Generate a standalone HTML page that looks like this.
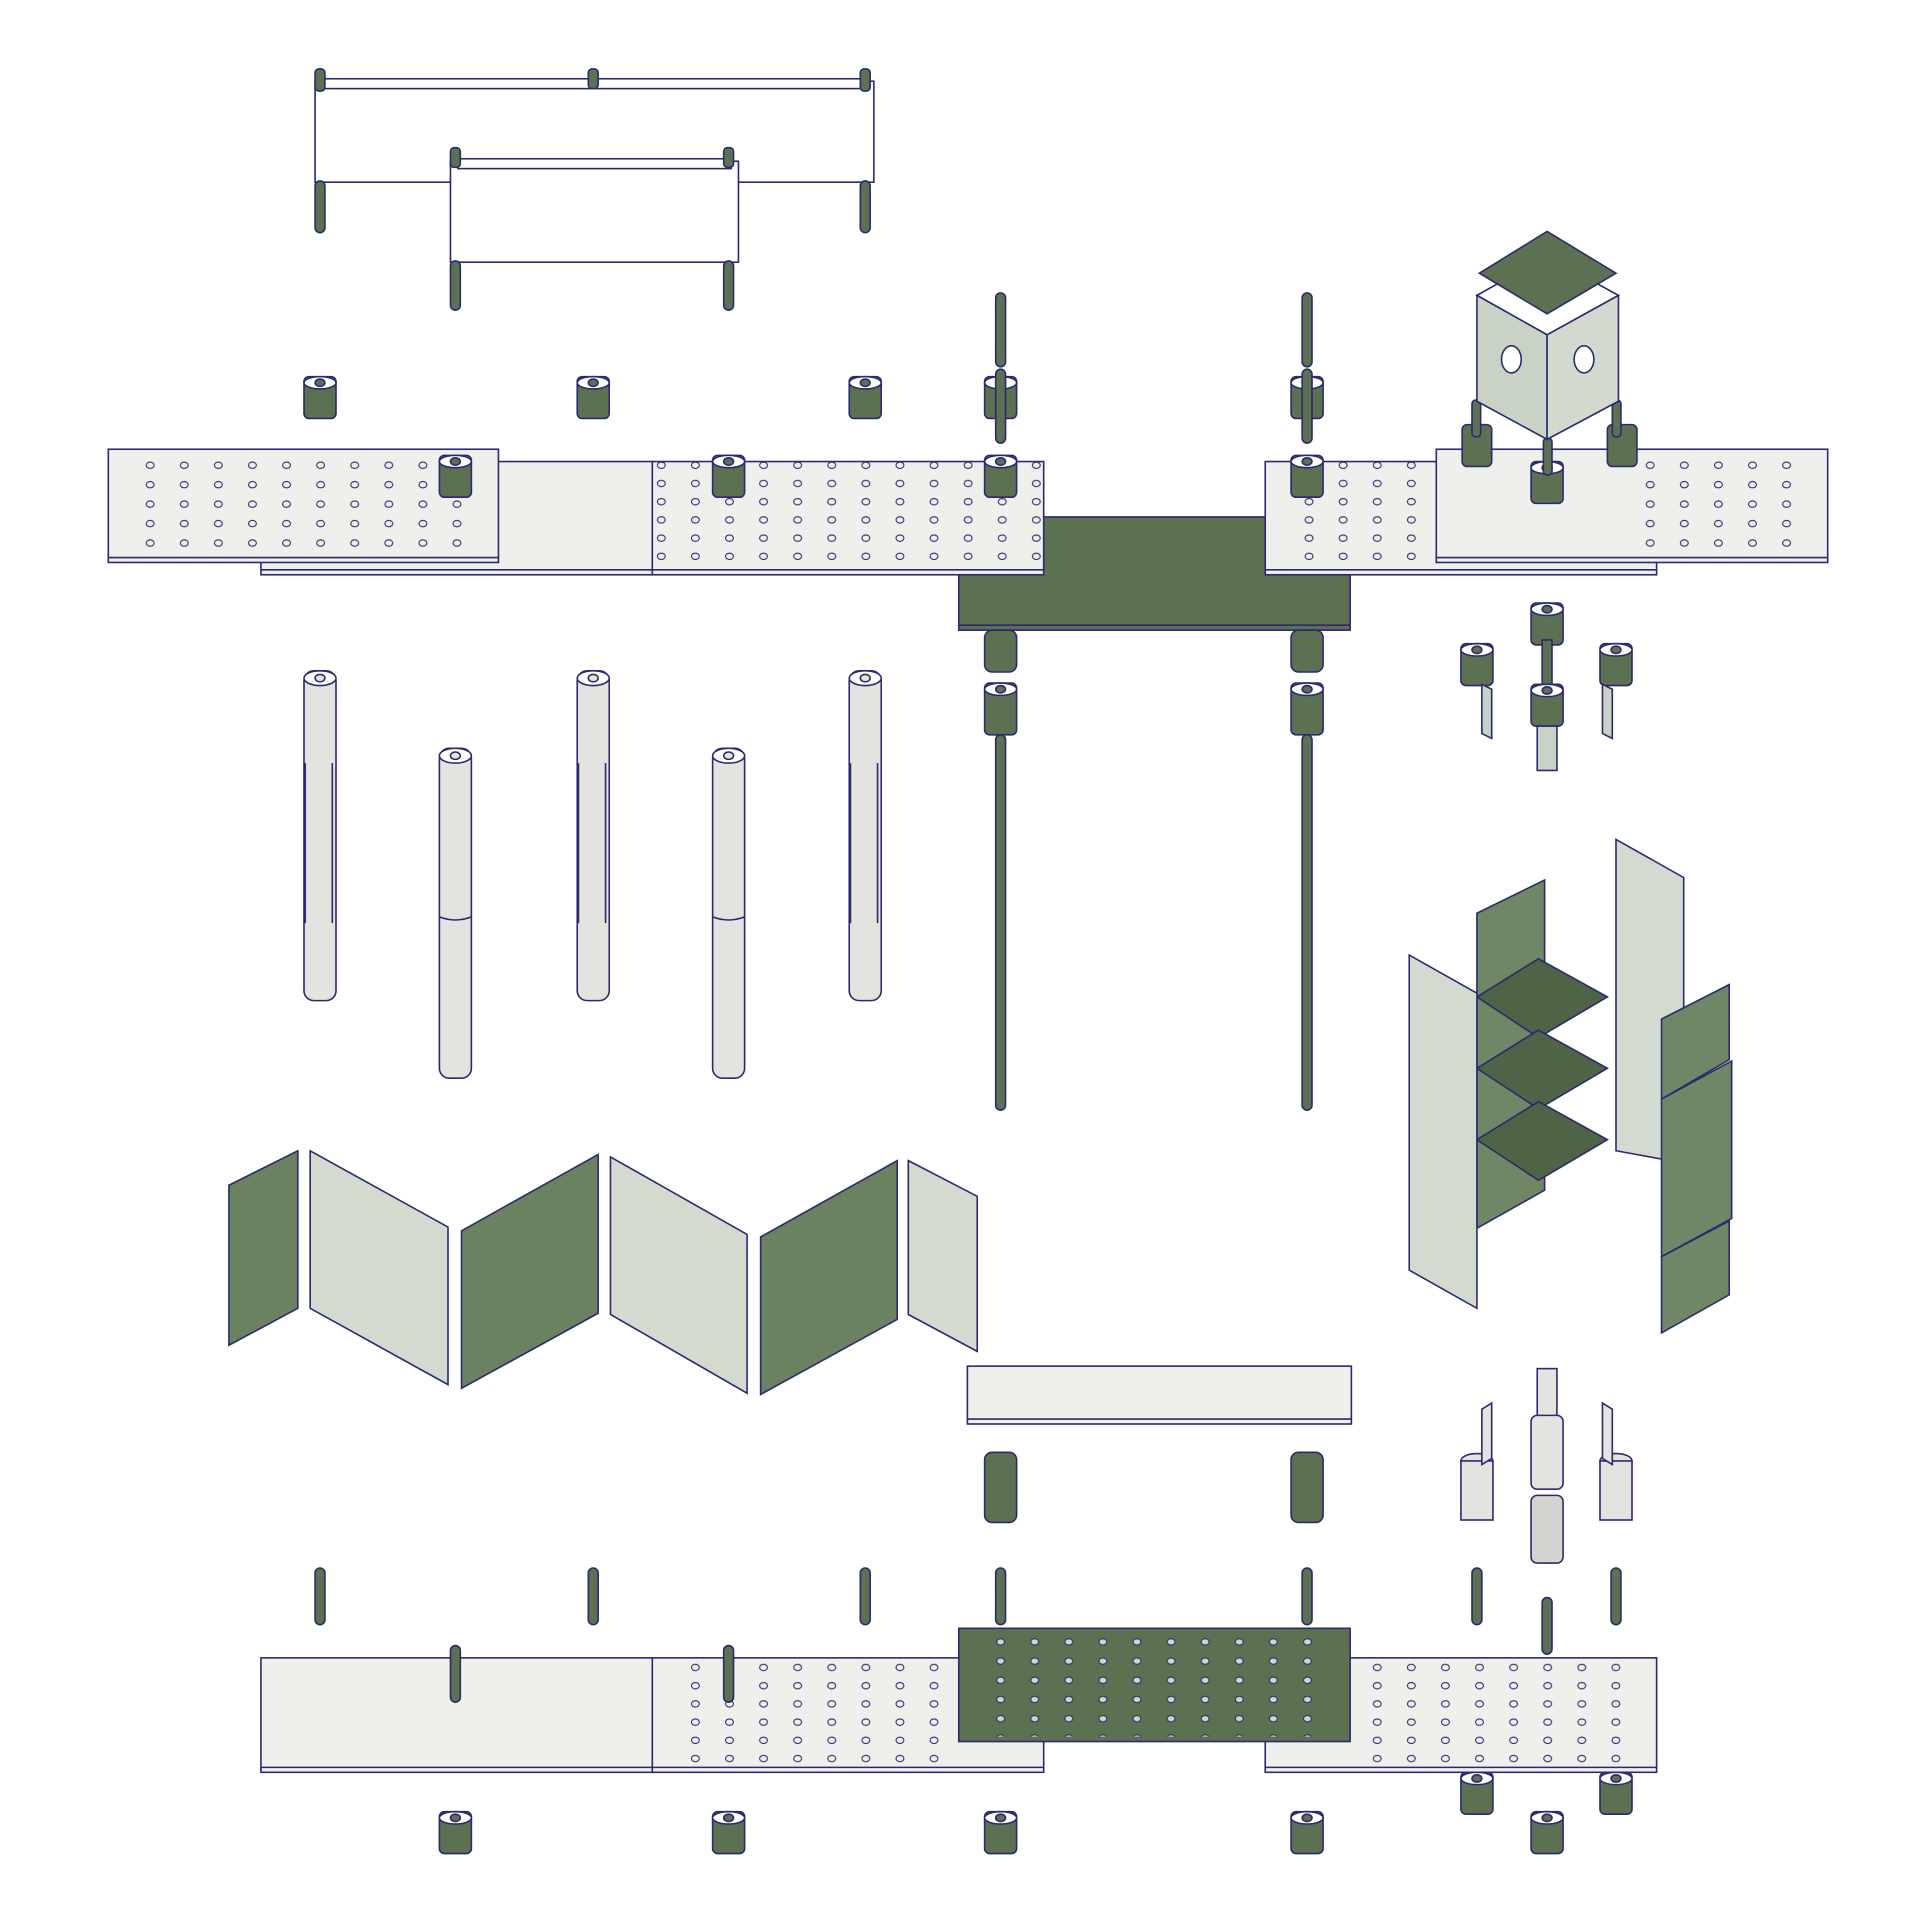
<!DOCTYPE html>
<html><head><style>html,body{margin:0;padding:0;background:#fff}svg{display:block}</style></head>
<body>
<svg width="1920" height="1920" viewBox="0 0 1560 1560" xmlns="http://www.w3.org/2000/svg" stroke="#2b2a6e" stroke-width="1.3">
<defs>
<pattern id="hA" x="108" y="371" width="27.7" height="15.8" patternUnits="userSpaceOnUse"><ellipse cx="14" cy="7" rx="3.2" ry="2.6" fill="none" stroke-width="0.9"/></pattern>
<pattern id="hB" x="551" y="371" width="27.7" height="14.8" patternUnits="userSpaceOnUse"><ellipse cx="14" cy="7" rx="3.2" ry="2.6" fill="none" stroke-width="0.9"/></pattern>
<pattern id="hG" x="799" y="1327" width="27.7" height="15.6" patternUnits="userSpaceOnUse"><ellipse cx="14" cy="7" rx="3.2" ry="2.6" fill="#cfd6cb" stroke-width="0.9"/></pattern>
<g id="sp"><rect x="-13" y="0" width="26" height="34" rx="4" fill="#5c7052"/><ellipse cx="0" cy="5" rx="13" ry="5" fill="#fff"/><ellipse cx="0" cy="5" rx="4" ry="3" fill="#5c7052"/></g>
<g id="spL"><rect x="-13" y="0" width="26" height="42" rx="4" fill="#5c7052"/><ellipse cx="0" cy="5" rx="13" ry="5" fill="#fff"/><ellipse cx="0" cy="5" rx="4" ry="3" fill="#5c7052"/></g>
<g id="col"><rect x="-13" y="0" width="26" height="268" rx="8" fill="#e3e3df"/><ellipse cx="0" cy="6" rx="13" ry="6" fill="#fff"/><ellipse cx="0" cy="6" rx="4" ry="3" fill="#e3e3df"/></g>
<g id="rod"><rect x="-4" y="0" width="8" height="46" rx="4" fill="#5c7052"/></g>
</defs>

<g fill="#fff">
<rect x="256" y="66" width="454" height="82"/>
<rect x="262" y="64" width="443" height="8" fill="#fff"/>
<rect x="366" y="131" width="234" height="82"/>
<rect x="372" y="129" width="222" height="8"/>
</g>
<g fill="#5c7052">
<rect x="256" y="56" width="8" height="18" rx="3"/><rect x="478" y="56" width="8" height="16" rx="3"/><rect x="699" y="56" width="8" height="18" rx="3"/>
<rect x="256" y="147" width="8" height="42" rx="4"/><rect x="699" y="147" width="8" height="42" rx="4"/>
<rect x="366" y="120" width="8" height="16" rx="3"/><rect x="588" y="120" width="8" height="16" rx="3"/>
<rect x="366" y="212" width="8" height="40" rx="4"/><rect x="588" y="212" width="8" height="40" rx="4"/>
</g>

<use href="#sp" x="260" y="306"/><use href="#sp" x="482" y="306"/><use href="#sp" x="703" y="306"/>
<rect x="809" y="238" width="8" height="60" rx="4" fill="#5c7052"/>
<rect x="1058" y="238" width="8" height="60" rx="4" fill="#5c7052"/>
<use href="#sp" x="813" y="306"/><use href="#sp" x="1062" y="306"/>
<rect x="809" y="300" width="8" height="60" rx="4" fill="#5c7052"/>
<rect x="1058" y="300" width="8" height="60" rx="4" fill="#5c7052"/>

<rect x="779" y="420" width="318" height="92" fill="#5c7052"/>
<line x1="779" y1="508" x2="1097" y2="508"/>
<rect x="212" y="375" width="318" height="92" fill="#efefec"/>
<rect x="530" y="375" width="318" height="92" fill="#efefec"/>
<rect x="530" y="375" width="318" height="88" fill="url(#hB)" stroke="none"/>
<rect x="1028" y="375" width="318" height="92" fill="#efefec"/>
<rect x="1050" y="375" width="110" height="88" fill="url(#hB)" stroke="none"/>
<line x1="212" y1="463" x2="848" y2="463"/><line x1="1028" y1="463" x2="1346" y2="463"/>
<rect x="88" y="365" width="317" height="92" fill="#efefec"/>
<rect x="108" y="368" width="280" height="81" fill="url(#hA)" stroke="none"/>
<line x1="88" y1="453" x2="405" y2="453"/>
<rect x="1167" y="365" width="318" height="92" fill="#efefec"/>
<rect x="1320" y="368" width="145" height="81" fill="url(#hA)" stroke="none"/>
<line x1="1167" y1="453" x2="1485" y2="453"/>
<use href="#sp" x="370" y="370"/><use href="#sp" x="592" y="370"/><use href="#sp" x="813" y="370"/><use href="#sp" x="1062" y="370"/>
<use href="#sp" x="1257" y="375"/>
<rect x="1188" y="345" width="24" height="34" rx="4" fill="#5c7052"/><rect x="1306" y="345" width="24" height="34" rx="4" fill="#5c7052"/>
<rect x="1196" y="325" width="7" height="30" rx="3" fill="#5c7052"/><rect x="1310" y="325" width="7" height="30" rx="3" fill="#5c7052"/><rect x="1254" y="356" width="7" height="30" rx="3" fill="#5c7052"/>

<polygon points="1200,240 1257,208 1315,240 1257,272" fill="#fff"/>
<polygon points="1200,240 1257,272 1257,357 1200,326" fill="#c9d3c5"/>
<polygon points="1257,272 1315,240 1315,326 1257,357" fill="#d2dacf"/>
<ellipse cx="1228" cy="292" rx="8" ry="11" fill="#fff"/><ellipse cx="1287" cy="292" rx="8" ry="11" fill="#fff"/>
<polygon points="1202,222 1257,188 1313,222 1257,255" fill="#5c7052"/>

<rect x="800" y="512" width="26" height="34" rx="6" fill="#5c7052"/><rect x="1049" y="512" width="26" height="34" rx="6" fill="#5c7052"/>
<use href="#spL" x="813" y="555"/><use href="#spL" x="1062" y="555"/>
<rect x="809" y="597" width="8" height="305" rx="4" fill="#5c7052"/>
<rect x="1058" y="597" width="8" height="305" rx="4" fill="#5c7052"/>
<use href="#sp" x="1257" y="490"/><rect x="1253" y="520" width="8" height="40" fill="#5c7052"/><use href="#sp" x="1257" y="556"/>
<rect x="1249" y="590" width="16" height="36" fill="#c9d3c5"/>
<use href="#sp" x="1200" y="523"/><use href="#sp" x="1313" y="523"/>
<polygon points="1204,556 1212,560 1212,600 1204,596" fill="#c9d3c5"/><polygon points="1302,556 1310,560 1310,600 1302,596" fill="#c9d3c5"/>

<use href="#col" x="260" y="545"/><use href="#col" x="482" y="545"/><use href="#col" x="703" y="545"/>
<use href="#col" x="370" y="608"/><use href="#col" x="592" y="608"/>
<g fill="none"><line x1="248" y1="620" x2="248" y2="750"/><line x1="270" y1="620" x2="270" y2="750"/><line x1="470" y1="620" x2="470" y2="750"/><line x1="492" y1="620" x2="492" y2="750"/><line x1="691" y1="620" x2="691" y2="750"/><line x1="713" y1="620" x2="713" y2="750"/>
<path d="M357 745 Q370 750 383 745"/><path d="M579 745 Q592 750 605 745"/></g>

<polygon points="186,963 242,935 242,1063 186,1093" fill="#6b8261"/>
<polygon points="252,935 364,997 364,1125 252,1063" fill="#d3dbd0"/>
<polygon points="375,1000 486,938 486,1067 375,1128" fill="#6b8261"/>
<polygon points="496,940 607,1003 607,1132 496,1068" fill="#d3dbd0"/>
<polygon points="618,1005 729,943 729,1072 618,1133" fill="#6b8261"/>
<polygon points="738,943 794,972 794,1098 738,1068" fill="#d3dbd0"/>

<polygon points="1200,742 1255,715 1255,967 1200,998" fill="#6f8766"/>
<polygon points="1313,682 1368,713 1368,945 1313,935" fill="#d3dbd0"/>
<polygon points="1200,810 1250,779 1306,810 1250,843" fill="#4f6347"/>
<polygon points="1200,868 1250,837 1306,868 1250,901" fill="#4f6347"/>
<polygon points="1200,926 1250,895 1306,926 1250,959" fill="#4f6347"/>
<polygon points="1145,776 1200,807 1200,1063 1145,1032" fill="#d3dbd0"/>
<polygon points="1350,828 1405,800 1405,861 1350,893" fill="#6f8766"/>
<polygon points="1350,893 1407,862 1407,990 1350,1021" fill="#6f8766"/>
<polygon points="1350,1021 1405,992 1405,1052 1350,1083" fill="#6f8766"/>

<rect x="786" y="1110" width="312" height="47" fill="#efefec"/>
<line x1="786" y1="1153" x2="1098" y2="1153"/>
<rect x="800" y="1180" width="26" height="57" rx="6" fill="#5c7052"/><rect x="1049" y="1180" width="26" height="57" rx="6" fill="#5c7052"/>
<ellipse cx="1200" cy="1187" rx="13" ry="6" fill="#e3e3df"/><rect x="1187" y="1187" width="26" height="48" fill="#e3e3df"/>
<ellipse cx="1313" cy="1187" rx="13" ry="6" fill="#e3e3df"/><rect x="1300" y="1187" width="26" height="48" fill="#e3e3df"/>
<polygon points="1204,1145 1212,1140 1212,1185 1204,1190" fill="#e3e3df"/><polygon points="1302,1140 1310,1145 1310,1190 1302,1185" fill="#e3e3df"/>
<rect x="1249" y="1112" width="16" height="60" fill="#e3e3df"/>
<rect x="1244" y="1150" width="26" height="60" rx="5" fill="#e3e3df"/>
<rect x="1244" y="1215" width="26" height="55" rx="5" fill="#d3d3cf"/>

<use href="#rod" x="260" y="1274"/><use href="#rod" x="482" y="1274"/><use href="#rod" x="703" y="1274"/><use href="#rod" x="813" y="1274"/><use href="#rod" x="1062" y="1274"/><use href="#rod" x="1200" y="1274"/><use href="#rod" x="1313" y="1274"/><use href="#rod" x="1257" y="1298"/>

<rect x="212" y="1347" width="318" height="93" fill="#efefec"/>
<rect x="530" y="1347" width="318" height="93" fill="#efefec"/>
<rect x="551" y="1350" width="230" height="82" fill="url(#hB)" stroke="none"/>
<rect x="1028" y="1347" width="318" height="93" fill="#efefec"/>
<rect x="1100" y="1350" width="230" height="82" fill="url(#hB)" stroke="none"/>
<line x1="212" y1="1436" x2="848" y2="1436"/><line x1="1028" y1="1436" x2="1346" y2="1436"/>
<rect x="779" y="1323" width="318" height="92" fill="#5c7052"/>
<rect x="799" y="1327" width="280" height="84" fill="url(#hG)" stroke="none"/>
<rect x="366" y="1337" width="8" height="46" rx="4" fill="#5c7052"/><rect x="588" y="1337" width="8" height="46" rx="4" fill="#5c7052"/>
<use href="#sp" x="370" y="1472"/><use href="#sp" x="592" y="1472"/><use href="#sp" x="813" y="1472"/><use href="#sp" x="1062" y="1472"/><use href="#sp" x="1257" y="1472"/>
<use href="#sp" x="1200" y="1440"/><use href="#sp" x="1313" y="1440"/>
</svg>
</body></html>
